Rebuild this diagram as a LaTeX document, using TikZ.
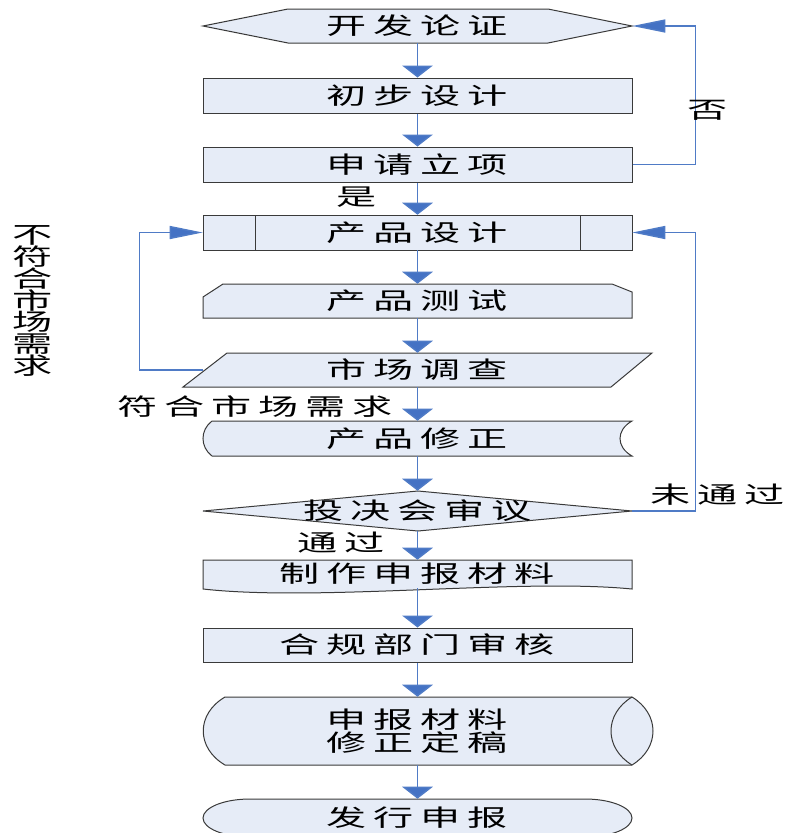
\documentclass[tikz,border=0pt]{standalone}
\usepackage{fontspec}
\usepackage{graphicx}
\newfontfamily\cjk{Noto Sans CJK SC}
\usetikzlibrary{arrows.meta}
\definecolor{lnblue}{HTML}{4F7BC6}
\definecolor{arblue}{HTML}{4472C4}
\definecolor{shfill}{HTML}{E6ECF7}
\definecolor{shline}{HTML}{3A3A3A}
\def\lspA#1{\ifx\relax#1\unkern\else#1\kern3pt\relax\expandafter\lspA\fi}
\newcommand\T[1]{\scalebox{1.72}[1]{\lspA#1\relax}}
\tikzset{
  txt/.style={font={\cjk\fontsize{17.5pt}{16.3pt}\selectfont\lineskiplimit=-20pt}, inner sep=0pt, text=black},
  nd/.style={txt, minimum width=321.75pt},
  shp/.style={fill=shfill, draw=shline, line width=0.75pt},
  vflow/.style={draw=lnblue, line width=1.1pt, -{Triangle[width=23pt,length=9pt,fill=arblue]}},
  hflow/.style={draw=lnblue, line width=1.1pt, -{Triangle[width=9.75pt,length=24.75pt,fill=arblue]}}
}
\begin{document}
\begin{tikzpicture}[x=0.75pt,y=-0.75pt]
\useasboundingbox (0,0) rectangle (789,833);
\clip (0,0) rectangle (789,833);
% shapes
\path[shp] (203,26) -- (288,9) -- (548,9) -- (632,26) -- (548,43) -- (288,43) -- cycle;
\path[shp] (203,215) rectangle (632,250);
\draw[shline, line width=0.75pt] (255,215) -- (255,250) (580,215) -- (580,250);
\path[shp] (203,297) -- (223,284) -- (612,284) -- (632,292) -- (632,318) -- (203,318) -- cycle;
\path[shp] (227,353) -- (652,353) -- (611,387) -- (183,387) -- cycle;
\path[shp] (212,421) -- (632,421) .. controls (616,430) and (616,447) .. (632,456) -- (212,456) .. controls (200,447) and (200,430) .. (212,421) -- cycle;
\path[shp] (203,511) -- (418,491) -- (632,511) -- (418,531) -- cycle;
\path[shp] (203,560) -- (632,560) -- (632,589) .. controls (520,578) and (320,602) .. (203,589) -- cycle;
\path[shp] (225,697) -- (632,697) .. controls (660,714) and (660,748) .. (632,765) -- (225,765) .. controls (196,748) and (196,714) .. (225,697) -- cycle;
\draw[shline, line width=0.75pt] (632,697) .. controls (604,714) and (604,748) .. (632,765);
\path[shp] (250,799) -- (585,799) arc[start angle=-90, end angle=90, x radius=47, y radius=19] -- (250,837) arc[start angle=90, end angle=270, x radius=47, y radius=19] -- cycle;
% nodes
\node[nd, minimum height=25.5pt] (n1) at (417.5,26) {\T{开发论证}};
\node[nd, shp, minimum height=26.25pt] (n2) at (417.5,95.5) {\T{初步设计}};
\node[nd, shp, minimum height=26.25pt] (n3) at (417.5,164.5) {\T{申请立项}};
\node[nd, minimum height=26.25pt] (n4) at (417.5,232.5) {\T{产品设计}};
\node[nd, minimum height=25.5pt] (n5) at (417.5,301) {\T{产品测试}};
\node[nd, minimum height=25.5pt] (n6) at (417.5,370) {\T{市场调查}};
\node[nd, minimum height=26.25pt] (n7) at (417.5,438.5) {\T{产品修正}};
\node[nd, minimum height=30pt] (n8) at (417.5,511) {\T{投决会审议}};
\node[nd, minimum height=21pt] (n9) at (417.5,574) {\T{制作申报材料}};
\node[nd, shp, minimum height=25.5pt] (n10) at (417.5,645) {\T{合规部门审核}};
\node[nd, minimum height=51pt, align=center, font={\cjk\fontsize{17.5pt}{17.25pt}\selectfont\lineskiplimit=-20pt}] (n11) at (417.5,731) {\T{申报材料}\\\T{修正定稿}};
\node[nd, minimum height=28.5pt] (n12) at (417.5,818) {\T{发行申报}};
% flow
\draw[vflow] (n1) -- (n2);
\draw[vflow] (n2) -- (n3);
\draw[vflow] (n3) -- (n4);
\draw[vflow] (n4) -- (n5);
\draw[vflow] (n5) -- (n6);
\draw[vflow] (n6) -- (n7);
\draw[vflow] (n7) -- (n8);
\draw[vflow] (n8) -- (n9);
\draw[vflow] (n9) -- (n10);
\draw[vflow] (n10) -- (n11);
\draw[vflow] (n11) -- (n12);
% loops
\draw[hflow] (n3.east) -- ++(63,0) |- (n1.east);
\draw[hflow] (n6.west) -- ++(-63.5,0) |- (n4.west);
\draw[hflow] (n8.east) -- ++(63,0) |- (n4.east);
% labels
\node[txt] (lno) at (708,110) {\T{否}};
\node[txt] (lyes) at (357,197) {\T{是}};
\node[txt, align=center] (lbad) at (33,301) {\T{不}\\\T{符}\\\T{合}\\\T{市}\\\T{场}\\\T{需}\\\T{求}};
\node[txt] (lgood) at (255,407) {\T{符合市场需求}};
\node[txt] (lfail) at (718,495) {\T{未通过}};
\node[txt] (lpass) at (341,543) {\T{通过}};
\end{tikzpicture}
\end{document}
